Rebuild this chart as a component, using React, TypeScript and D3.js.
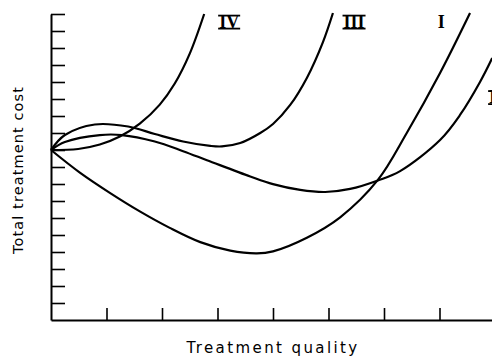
import React, { useEffect, useRef } from 'react';
import * as d3 from 'd3';

// values: quality on x (0-8), cost on y (0-18)
const curveNames = ['I', 'II', 'III', 'IV'];

const qualityI = [0, 0.52, 1.06, 1.6, 2.14, 2.69, 3.23, 3.71, 4.0, 4.61, 5.21, 5.89, 6.41, 7.01, 7.55];
const costI = [10, 8.67, 7.48, 6.39, 5.42, 4.58, 4.08, 3.92, 4.04, 4.84, 6.04, 8.24, 11.0, 14.53, 18.06];

const qualityII = [0, 0.25, 0.88, 1.28, 1.87, 2.38, 2.81, 3.59, 4.0, 4.49, 4.94, 5.39, 5.89, 6.29, 7.01, 7.37, 7.73, 7.95];
const costII = [10, 10.47, 10.88, 10.88, 10.5, 9.93, 9.4, 8.44, 7.99, 7.65, 7.53, 7.71, 8.21, 8.76, 10.59, 12.06, 14.0, 15.41];

const qualityIII = [0, 0.25, 0.79, 1.39, 1.87, 2.38, 2.87, 3.08, 3.41, 3.77, 4.0, 4.31, 4.61, 4.9, 5.08];
const costIII = [10, 10.88, 11.5, 11.38, 10.94, 10.5, 10.24, 10.21, 10.41, 11.0, 11.53, 12.65, 14.24, 16.35, 18.06];

const qualityIV = [0, 0.49, 0.88, 1.24, 1.6, 1.96, 2.23, 2.5, 2.76];
const costIV = [10, 10.06, 10.32, 10.79, 11.55, 12.67, 13.91, 15.67, 18];

const qualityTicks = [1, 2, 3, 4, 5, 6, 7];
const costTicks = [1, 2, 3, 4, 5, 6, 7, 8, 9, 10, 11, 12, 13, 14, 15, 16, 17, 18];

const drawChart = (svgEl: SVGSVGElement) => {
	const svg = d3.select(svgEl);
	svg.selectAll('*').remove();

	const x = d3.scaleLinear().domain([0, 8]).range([51, 495]);
	const y = d3.scaleLinear().domain([0, 18]).range([320, 14]);

	const series = [
		{ name: curveNames[0], q: qualityI, c: costI },
		{ name: curveNames[1], q: qualityII, c: costII },
		{ name: curveNames[2], q: qualityIII, c: costIII },
		{ name: curveNames[3], q: qualityIV, c: costIV },
	];

	const yAxis = d3.axisLeft(y).tickValues(costTicks).tickSizeInner(-14).tickSizeOuter(0).tickFormat(() => '');
	const xAxis = d3.axisBottom(x).tickValues(qualityTicks).tickSizeInner(-12).tickSizeOuter(0).tickFormat(() => '');

	const gy = svg.append('g').attr('transform', 'translate(51,0)').call(yAxis);
	const gx = svg.append('g').attr('transform', 'translate(0,320)').call(xAxis);
	[gy, gx].forEach((g) => {
		g.select('.domain').attr('stroke', '#000').attr('stroke-width', 2);
		g.selectAll('.tick line').attr('stroke', '#000').attr('stroke-width', 1.6);
	});

	const line = d3.line<[number, number]>()
		.x((d) => x(d[0]))
		.y((d) => y(d[1]))
		.curve(d3.curveCatmullRom.alpha(0.5));

	svg.append('g')
		.selectAll('path')
		.data(series)
		.enter()
		.append('path')
		.attr('d', (s) => line(s.q.map((v, i) => [v, s.c[i]] as [number, number])))
		.attr('fill', 'none')
		.attr('stroke', '#000')
		.attr('stroke-width', 2.2);

	// roman numeral tags beside the curves
	const tags = [
		{ name: curveNames[3], at: [3.21, 17.2], bars: true },
		{ name: curveNames[2], at: [5.46, 17.2], bars: true },
		{ name: curveNames[0], at: [7.03, 17.2], bars: false },
		{ name: curveNames[1], at: [8.02, 12.76], bars: true },
	];
	const tg = svg.append('g')
		.attr('font-family', '"Liberation Serif", serif')
		.attr('font-weight', 'bold')
		.attr('font-size', 18);
	tags.forEach((t) => {
		const cx = x(t.at[0]);
		const cy = y(t.at[1]);
		const txt = tg.append('text')
			.attr('x', cx)
			.attr('y', cy)
			.attr('text-anchor', 'middle')
			.text(t.name);
		if (t.bars) {
			const w = (txt.node() as SVGTextElement).getComputedTextLength();
			[cy - 12, cy + 1].forEach((by) => {
				tg.append('line')
					.attr('x1', cx - w / 2 - 1).attr('x2', cx + w / 2 + 1)
					.attr('y1', by).attr('y2', by)
					.attr('stroke', '#000').attr('stroke-width', 1.8);
			});
		}
	});

	svg.append('text')
		.attr('transform', 'translate(23,170) rotate(-90)')
		.attr('text-anchor', 'middle')
		.attr('font-family', '"DejaVu Sans", sans-serif')
		.attr('font-size', 14.5)
		.attr('letter-spacing', 1.1)
		.text('Total treatment cost');

	svg.append('text')
		.attr('x', 273)
		.attr('y', 353)
		.attr('text-anchor', 'middle')
		.attr('font-family', '"DejaVu Sans", sans-serif')
		.attr('font-size', 15)
		.attr('letter-spacing', 2.4)
		.text('Treatment quality');
};

const App = () => {
	const ref = useRef<SVGSVGElement>(null);

	useEffect(() => {
		if (ref.current) drawChart(ref.current);
	}, []);

	return (
		<svg
			ref={ ref }
			width={ 492 }
			height={ 357 }
			style={ { position: 'absolute', left: 0, top: 0, background: '#fff' } }
		/>
	);
};

export default App;
